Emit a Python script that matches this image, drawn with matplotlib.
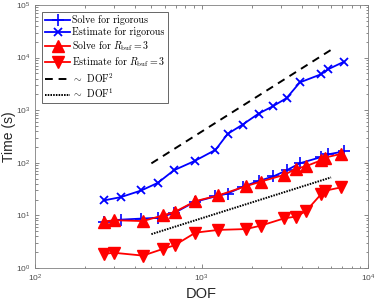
import matplotlib
matplotlib.use("Agg")
import matplotlib.pyplot as plt
import matplotlib.ticker as mticker
import numpy as np

# Data
dof_rig = [260, 327, 435, 547, 682, 908, 1213, 1437, 1767, 2203, 2698, 3243, 3899, 5209, 5785, 7180]
solve_rig = [7.6, 8.3, 8.7, 9.0, 11, 18, 23, 26, 35, 45, 55, 72, 98, 128, 145, 165]
est_rig = [19.3, 22.2, 29.8, 41.6, 72, 108, 176, 355, 533, 862, 1200, 1700, 3380, 4800, 6040, 8360]

dof_buf = [259, 297, 445, 586, 689, 920, 1264, 1852, 2276, 3141, 3690, 4236, 5209, 5530, 6860]
solve_buf = [7.6, 8.1, 7.8, 10, 11.6, 18.7, 24, 36, 44, 59, 77, 86, 111, 126, 147]
est_buf = [1.85, 1.95, 1.72, 2.3, 2.7, 4.7, 5.3, 5.5, 6.4, 8.8, 9.5, 12, 25, 29.5, 34]

ref_dof = [500, 6000]
c2 = 3.9e-4
c1 = 0.0088

labels = ["Solve for rigorous", "Estimate for rigorous",
          r"Solve for $R_{\rm buf} = 3$", r"Estimate for $R_{\rm buf} = 3$",
          r"$\sim$ DOF$^2$", r"$\sim$ DOF$^1$"]

plt.rcParams['mathtext.fontset'] = 'cm'
plt.rcParams['font.family'] = ['Liberation Sans', 'DejaVu Sans']

fig = plt.figure(figsize=(3.75, 3.0), dpi=100)
ax = fig.add_axes([35/375, 32/300, 333/375, 263/300])

blue = (0, 0, 1)
red = (1, 0, 0)
ax.plot(dof_rig, solve_rig, color=blue, marker='+', ms=8, mew=1.2, lw=1.3, label=labels[0])
ax.plot(dof_rig, est_rig, color=blue, marker='x', ms=5.5, mew=1.3, lw=1.3, label=labels[1])
ax.plot(dof_buf, solve_buf, color=red, marker='^', ms=8, lw=1.3, label=labels[2])
ax.plot(dof_buf, est_buf, color=red, marker='v', ms=8, lw=1.3, label=labels[3])
rd = np.array(ref_dof, dtype=float)
ax.plot(rd, c2 * rd**2, color='k', ls=(0, (4, 3)), lw=1.4, label=labels[4])
ax.plot(rd, c1 * rd, color='k', ls=(0, (0.8, 0.6)), lw=1.4, label=labels[5])

ax.set_xscale('log')
ax.set_yscale('log')
ax.set_xlim(1e2, 1e4)
ax.set_ylim(1e0, 1e5)

def fmt(v, pos):
    e = int(round(np.log10(v)))
    return r"$\mathregular{10^{%d}}$" % e

ax.xaxis.set_major_formatter(mticker.FuncFormatter(fmt))
ax.yaxis.set_major_formatter(mticker.FuncFormatter(fmt))

gray = (0.15, 0.15, 0.15)
for s in ax.spines.values():
    s.set_color((0.5, 0.5, 0.5))
    s.set_linewidth(0.6)
ax.tick_params(which='both', direction='in', top=True, right=True, colors=(0.35, 0.35, 0.35),
               labelsize=6, labelcolor=(0.3, 0.3, 0.3))
ax.tick_params(which='major', length=3, width=0.5)
ax.tick_params(which='minor', length=1.8, width=0.5)

ax.set_xlabel("DOF", fontsize=10.5, color=gray, labelpad=2)
ax.set_ylabel("Time (s)", fontsize=10, color=gray)
ax.yaxis.set_label_coords((16 - 35) / 333, 0.5)

# fit legend width to about 126 px (as in the reference)
target_w = 126.0
renderer = fig.canvas.get_renderer()

def make_legend(size):
    px = size * 100 / 72
    lg = ax.legend(loc='upper left', prop={'family': 'cmr10', 'size': size},
                   handlelength=25.0 / px, handletextpad=2.0 / px,
                   labelspacing=2.2 / px, borderpad=3.0 / px, borderaxespad=0.0,
                   bbox_to_anchor=((42 - 35) / 333, 1 - (12 - 5) / 263),
                   fancybox=False, framealpha=1, edgecolor=(0.3, 0.3, 0.3))
    lg.get_frame().set_linewidth(0.6)
    return lg

size = 8.0
for _ in range(6):
    leg = make_legend(size)
    bb = leg.get_window_extent(renderer)
    size *= target_w / bb.width
    size = min(max(size, 5.0), 12.0)
leg = make_legend(size)

fig.savefig("out.png", dpi=100)
